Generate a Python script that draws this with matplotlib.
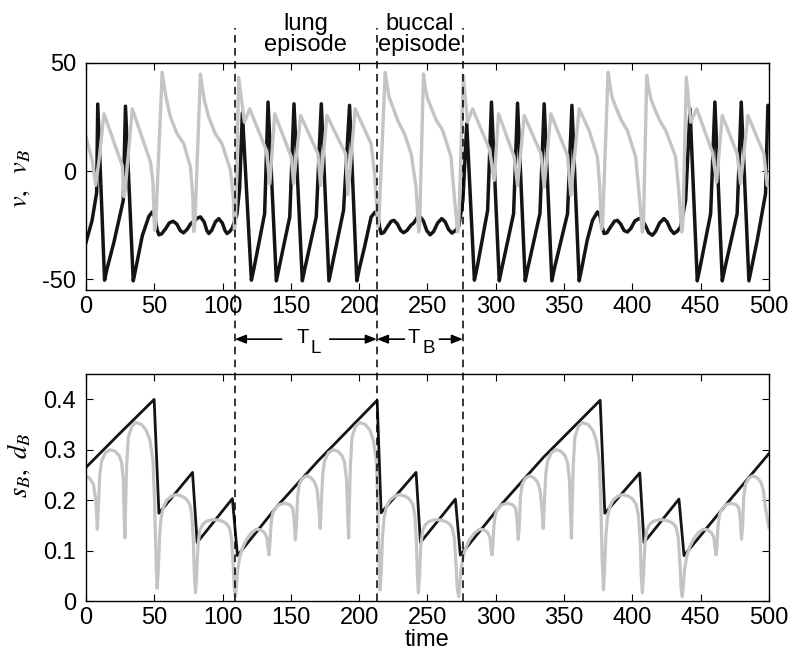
import matplotlib
matplotlib.use("Agg")
import matplotlib.pyplot as plt
from matplotlib.lines import Line2D
from matplotlib.transforms import blended_transform_factory

plt.rcParams['font.family'] = ['Liberation Sans', 'DejaVu Sans']
plt.rcParams['axes.unicode_minus'] = False

# ---------------- data ----------------
# top panel: v (black)
v_t = [0, 4.4, 7.8, 8.6, 13.6, 15.5, 20.5, 27.3, 28.9, 34.6, 36.5, 41.2, 46, 48.5, 50.5, 52,
       53.4, 55.5, 58.5, 61, 63.8, 66.5, 69, 71.4, 74, 76.5, 77.7, 79.5, 81.5, 83.8, 86.5, 88.5,
       89.9, 92, 94.8, 97.2, 99.8, 101.8, 103.3, 105.2, 107, 110.5, 112.5, 114.5,
       121.1, 123, 130.8, 133.3, 139.4, 141.3, 149.2, 152.3,
       158.4, 160.3, 168.6, 172.3, 177.9, 179.8, 188.6, 193.0, 198.3, 200.2, 204, 208.8,
       211.8, 213.8, 215, 216.1, 218, 221, 223.5, 225.5, 228, 230.5, 232.5, 235, 238, 240,
       242.5, 244.5, 247, 249.5, 252, 254.5, 257.5, 260.5, 263, 265.5, 268, 270.5, 273, 276,
       278.8, 284.4, 286.3, 294.1, 296.9, 302.6, 304.5, 313.1,
       316, 321.6, 323.5, 332.4, 335.5, 341.1, 343, 352.6, 355.8, 361.1, 363, 367, 370.9,
       374.5, 376.5, 378, 379.4, 381.5, 384.5, 387, 389.1, 391.5, 394, 396.4, 399, 402, 405,
       407, 409.5, 412, 414.7, 417, 420, 423.2, 425.5, 428, 430.5, 433, 435.4, 439.1,
       442.3, 447.6, 449.5, 457.4, 460.5, 465.9, 467.8, 476.8,
       479.8, 485.4, 487.3, 491.5, 497.6, 499.3, 500]
v_val = [-33, -23, -10, 31, -50.5, -45, -32.8, -13.5, 30, -50.8, -45, -30, -21, -18.9, -21.5, -27,
         -29.5, -29, -26.5, -24, -23.2, -24.5, -27.5, -28.6, -27, -24.5, -23.8, -23, -21.8, -21.2, -23.5, -27.5,
         -28.9, -27.5, -23.5, -22, -24, -27.5, -28.9, -28, -26.5, -20, -8, 27,
         -50.5, -45, -19.7, 31.9, -50.8, -45, -21.2, 31.1,
         -50.8, -45, -21.2, 31.1, -50.8, -45, -18.1, 30.4, -50.8, -45, -35, -21.2,
         -18.9, -21, -26, -28.9, -28.5, -25.5, -23.2, -22.8, -24.5, -27.5, -28.5, -27.5, -25, -24,
         -21.5, -21, -23, -27.5, -29.5, -28, -24, -22, -23.5, -27, -28.7, -27.5, -25.5, -13.5,
         22, -50.5, -45, -18.1, 31.9, -50.8, -45, -19.7,
         31.4, -50.8, -45, -19.7, 31.1, -50.8, -45, -19.7, 30.4, -50.8, -45, -32, -22.8,
         -18.9, -21, -26, -28.9, -28.5, -25.5, -23.2, -22.8, -24.5, -27.5, -28.2, -26.5, -23, -22,
         -22.5, -25, -28.5, -29.7, -28, -24, -22, -23.5, -27, -28.9, -27.8, -25.8, -13.5,
         28.8, -50.8, -45, -19.7, 31.9, -50.8, -45, -19.7,
         31.9, -50.8, -45, -32, -10.4, 30.4, 30.4]

# top panel: v_B (grey)
vB_t = [0, 4.6, 7.1, 9.5, 13.2, 26.6, 27.8, 28.7, 33.9, 47.3, 49, 50.2, 51, 55.8, 57.2, 58.8,
        61.9, 66.5, 71.6, 76.5, 78.2, 78.9, 79.7, 83.8, 85.2, 86.8, 89.9, 94.5, 99.6, 105.8, 107.8, 108.7,
        109.5, 111.8, 116, 119.9, 132.1, 134.6, 138.2, 150.3, 152, 157.2, 169.8, 171.8,
        176.4, 190.1, 191.8, 197.1, 208.8, 211.3, 213.7, 214.5, 219.1, 220.5, 222, 224.7, 228.5,
        233.2, 238.1, 241.7, 243.6, 244.3, 247.1, 248.5, 250.1, 252.6, 256.5, 261.2, 267.3, 269.7,
        272.1, 272.9, 276.3, 279.4, 283.1, 295.3, 298.9, 302.1, 313.6, 316, 320.9, 333.1,
        335.5, 340.4, 352.6, 355, 361.1, 368.4, 374.5, 376.2, 377.5, 378.3, 382.3, 383.7, 385.3,
        387.9, 392, 396.4, 402.5, 405, 407.4, 408.2, 410.6, 412, 413.6, 415.9, 420, 424.5, 431.8, 434.2,
        436.2, 437, 439.6, 442.8, 447.2, 458.6, 461.8, 465.9, 476.8, 479.3, 484.7, 496.4,
        498.8, 500]
vB_val = [15.7, 4.8, -6.6, 4.8, 26.5, 2.4, -11.8, -9, 28.8, 4, -5, -27.4, -25, 45.7, 39.5, 33.5,
          24.9, 17.5, 12.6, 1.8, -12, -28, -25, 44.9, 38.5, 32.5, 24.9, 17.5, 12.6, 0.4, -12, -27.4,
          -24, 43.4, 22.6, 28.8, 9.5, -5.9, 26.5, 6.5, -5.9, 25.7, 8, -6.7,
          25.7, 8, -11, 28.8, 12.6, -1.2, -25.8, -23, 45.7, 39.5, 34, 29.6, 23,
          17.3, 8, -7.4, -28.2, -25, 44.9, 38.5, 33.5, 29.6, 23.5, 18.8, 6.5, -11.9,
          -28.2, -25, 44.2, 22.6, 28.8, 10.3, -4.3, 26.5, 6.5, -6.7, 25.7, 8,
          -7.4, 26.5, 7.2, -11.3, 28.8, 18.8, 6.5, -7.4, -27, -24, 45.7, 39.5, 34,
          29.6, 23.5, 18.8, 6.5, -10.4, -28.2, -25, 44.2, 38.5, 33.5, 29.6, 23.5, 18.8, 6.5, -10.4,
          -28.2, -25, 43.4, 22.6, 28.8, 8.8, -5.1, 25.7, 8, -5.9, 25.7, 8,
          -6.7, -5]

# bottom panel: d_B (black)
dB_t = [0, 25, 49.9, 53.4, 78, 81.4, 107.2, 110.9, 140, 170, 213.2, 216.1, 241.7, 244.9,
        270.5, 274.1, 305, 335, 376.5, 379.9, 405.5, 408.6, 434.2, 437.9, 468, 500]
dB_val = [0.265, 0.333, 0.3996, 0.174, 0.255, 0.116, 0.203, 0.090, 0.188, 0.278, 0.398,
          0.175, 0.255, 0.116, 0.202, 0.091, 0.194, 0.285, 0.398, 0.174, 0.254, 0.116,
          0.202, 0.090, 0.189, 0.292]

# bottom panel: s_B (grey)
sB_t = [0, 2.5, 5.4, 7.2, 7.8, 8.3,
        9.1, 10.1, 11.5, 14.3, 17.6, 21.3, 24.3, 26.1, 27.3, 27.9, 28.5,
        29.0, 29.8, 31.0, 33.5, 36.5, 40.7, 44.2, 46.9, 49.0, 50.2, 51.3, 52.1,
        52.9, 53.9, 55.0, 56.7, 59.2, 62.7, 66.2, 70.2, 73.2, 76.0, 77.5, 78.6, 79.4, 80.2,
        81.0, 82.0, 83.3, 85.5, 88.2, 92.0, 95.5, 100.0, 103.0, 105.0, 106.5, 107.8, 108.6, 109.4,
        110.2, 111.0, 112.6, 115.0, 117.5, 121.0, 124.8, 128.0, 130.9, 132.5, 133.3, 134.0,
        134.6, 135.4, 136.5, 138.5, 141.5, 145.5, 149.0, 151.2, 152.3, 153.3,
        154.1, 154.9, 156.2, 158.5, 161.3, 164.5, 167.4, 169.3, 170.5, 171.5,
        172.3, 173.3, 174.7, 177.5, 180.8, 184.5, 187.5, 189.3, 190.8, 191.6, 192.3,
        192.8, 193.6, 194.8, 197.3, 200.3, 204.5, 208.0, 210.5, 212.5, 213.6, 214.6, 215.4,
        216.2, 217.2, 218.3, 220.0, 222.5, 226.0, 229.5, 233.5, 236.5, 239.3, 240.8, 241.9, 242.7, 243.4,
        244.2, 245.2, 246.5, 248.7, 251.4, 255.2, 258.7, 263.2, 266.2, 268.2, 269.7, 271.0, 271.9, 272.9,
        273.7, 274.5, 276.1, 278.5, 281.0, 284.5, 288.3, 291.5, 294.3, 295.8, 296.6, 297.3,
        297.9, 298.7, 299.8, 301.8, 304.8, 308.8, 312.3, 314.5, 315.5, 316.5,
        317.3, 318.1, 319.4, 321.7, 324.5, 327.7, 330.6, 332.5, 333.8, 334.8,
        335.6, 336.6, 338.0, 340.8, 344.1, 347.8, 350.8, 352.6, 354.0, 354.8, 355.5,
        356.0, 356.8, 358.0, 360.5, 363.5, 367.7, 371.2, 373.7, 375.8, 376.9, 378.0, 378.9,
        379.7, 380.7, 381.8, 383.5, 386.0, 389.5, 393.0, 397.0, 400.0, 402.8, 404.5, 405.8, 406.6, 407.4,
        408.2, 409.2, 410.5, 412.7, 415.4, 419.2, 422.7, 427.2, 430.2, 432.2, 433.7, 435.0, 435.8, 436.6,
        437.4, 438.2, 439.8, 442.2, 444.7, 448.2, 452.0, 455.2, 458.2, 459.8, 460.6, 461.4,
        462.0, 462.8, 463.9, 465.9, 468.9, 472.5, 476.0, 478.0, 479.0, 480.0,
        480.8, 481.6, 482.9, 485.2, 488.0, 491.2, 494.1, 496.0, 497.5, 500]
sB_val = [0.247, 0.244, 0.232, 0.200, 0.170, 0.1425,
          0.19, 0.25, 0.278, 0.294, 0.300, 0.297, 0.288, 0.275, 0.24, 0.175, 0.125,
          0.19, 0.27, 0.325, 0.346, 0.354, 0.350, 0.338, 0.318, 0.28, 0.2, 0.08, 0.025,
          0.06, 0.13, 0.165, 0.187, 0.2, 0.208, 0.211, 0.208, 0.203, 0.192, 0.17, 0.12, 0.05, 0.0166,
          0.05, 0.11, 0.14, 0.152, 0.158, 0.161, 0.161, 0.158, 0.153, 0.145, 0.125, 0.07, 0.025, 0.0086,
          0.03, 0.06, 0.088, 0.108, 0.122, 0.135, 0.1425, 0.141, 0.135, 0.125, 0.105, 0.0915,
          0.11, 0.15, 0.172, 0.184, 0.191, 0.194, 0.191, 0.185, 0.165, 0.121,
          0.15, 0.205, 0.232, 0.243, 0.248, 0.245, 0.236, 0.22, 0.185, 0.144,
          0.19, 0.25, 0.278, 0.294, 0.300, 0.297, 0.288, 0.275, 0.24, 0.175, 0.125,
          0.19, 0.27, 0.325, 0.346, 0.354, 0.350, 0.338, 0.318, 0.28, 0.2, 0.08, 0.022,
          0.06, 0.13, 0.165, 0.187, 0.2, 0.208, 0.211, 0.208, 0.203, 0.192, 0.17, 0.12, 0.05, 0.0166,
          0.05, 0.11, 0.14, 0.152, 0.158, 0.161, 0.161, 0.158, 0.153, 0.145, 0.125, 0.07, 0.025, 0.0086,
          0.03, 0.06, 0.088, 0.108, 0.122, 0.135, 0.1425, 0.141, 0.135, 0.125, 0.105, 0.0915,
          0.11, 0.15, 0.172, 0.184, 0.191, 0.194, 0.191, 0.185, 0.165, 0.1225,
          0.15, 0.205, 0.232, 0.243, 0.248, 0.245, 0.236, 0.22, 0.185, 0.144,
          0.19, 0.25, 0.278, 0.294, 0.300, 0.297, 0.288, 0.275, 0.24, 0.175, 0.125,
          0.19, 0.27, 0.325, 0.346, 0.354, 0.350, 0.338, 0.318, 0.28, 0.2, 0.08, 0.022,
          0.06, 0.13, 0.165, 0.187, 0.2, 0.208, 0.211, 0.208, 0.203, 0.192, 0.17, 0.12, 0.05, 0.0166,
          0.05, 0.11, 0.14, 0.152, 0.158, 0.161, 0.161, 0.158, 0.153, 0.145, 0.125, 0.07, 0.025, 0.0086,
          0.03, 0.06, 0.088, 0.108, 0.122, 0.135, 0.1425, 0.141, 0.135, 0.125, 0.105, 0.0915,
          0.11, 0.15, 0.172, 0.184, 0.191, 0.194, 0.191, 0.185, 0.165, 0.1225,
          0.15, 0.205, 0.232, 0.243, 0.248, 0.245, 0.236, 0.22, 0.185, 0.146]

episode_bounds = [109, 213, 276]
x_ticks = [0, 50, 100, 150, 200, 250, 300, 350, 400, 450, 500]
top_yticks = [-50, 0, 50]
bot_yticks = [0, 0.1, 0.2, 0.3, 0.4]
bot_yticklabels = ['0', '0.1', '0.2', '0.3', '0.4']

# ---------------- figure ----------------
BLACK = '#141414'
GREY = '#c4c4c4'
FS = 17

fig = plt.figure(figsize=(7.94, 6.56), dpi=100)
ax1 = fig.add_axes([0.1083, 0.558, 0.860, 0.346])
ax2 = fig.add_axes([0.1083, 0.0838, 0.860, 0.346])

ax1.plot(v_t, v_val, color=BLACK, lw=2.5, solid_joinstyle='round')
ax1.plot(vB_t, vB_val, color=GREY, lw=2.4, solid_joinstyle='round')
ax2.plot(dB_t, dB_val, color=BLACK, lw=2.0, solid_joinstyle='round')
ax2.plot(sB_t, sB_val, color=GREY, lw=2.3, solid_joinstyle='round')

for ax in (ax1, ax2):
    ax.set_xlim(0, 500)
    ax.set_xticks(x_ticks)
    ax.tick_params(direction='in', top=True, right=True, length=5, width=0.8,
                   labelsize=FS, color='k')
    ax.tick_params(axis='y', pad=7)
    ax.tick_params(axis='x', pad=4)
    for s in ax.spines.values():
        s.set_linewidth(1.0)

ax1.set_ylim(-55, 50)
ax1.set_yticks(top_yticks)
ax2.set_ylim(0, 0.45)
ax2.set_yticks(bot_yticks)
ax2.set_yticklabels(bot_yticklabels)

ax1.set_ylabel(r'$v,\ \ v_B$', fontsize=19, math_fontfamily='stix')
ax2.set_ylabel(r'$s_B,\ d_B$', fontsize=19, math_fontfamily='stix')
ax1.yaxis.set_label_coords(-0.077, 0.49)
ax2.yaxis.set_label_coords(-0.077, 0.60)
ax2.set_xlabel('time', fontsize=FS, labelpad=0)

# dashed vertical episode boundaries spanning both panels
trans = blended_transform_factory(ax2.transData, fig.transFigure)
for xb in episode_bounds:
    fig.add_artist(Line2D([xb, xb], [0.0838, 0.957], transform=trans, color='k',
                          lw=1.1, ls=(0, (5, 3.5))))

# episode labels
fig.text((episode_bounds[0] + episode_bounds[1]) / 2, 0.948, 'lung\nepisode', transform=trans,
         ha='center', va='center', fontsize=FS, linespacing=0.95)
fig.text((episode_bounds[1] + episode_bounds[2]) / 2, 0.948, 'buccal\nepisode', transform=trans,
         ha='center', va='center', fontsize=FS, linespacing=0.95)

# period arrows
ya = 0.483
ap = dict(arrowstyle='-|>,head_length=0.55,head_width=0.22', lw=1.2, color='k',
          mutation_scale=12, shrinkA=0, shrinkB=0)
for start, end in [(143.3, episode_bounds[0]), (178.4, episode_bounds[1]),
                   (233.2, episode_bounds[1]), (258.8, episode_bounds[2])]:
    ax1.annotate('', xy=(end, ya), xytext=(start, ya), xycoords=trans, textcoords=trans,
                 arrowprops=ap, annotation_clip=False)

fig.text(296.7 / 794, 1 - 343 / 656, 'T', ha='left', va='baseline', fontsize=14.5)
fig.text(311.0 / 794, 1 - 353 / 656, 'L', ha='left', va='baseline', fontsize=13.5)
fig.text(408.0 / 794, 1 - 343 / 656, 'T', ha='left', va='baseline', fontsize=14.5)
fig.text(422.5 / 794, 1 - 353 / 656, 'B', ha='left', va='baseline', fontsize=13.5)

fig.savefig('out.png', dpi=100)
